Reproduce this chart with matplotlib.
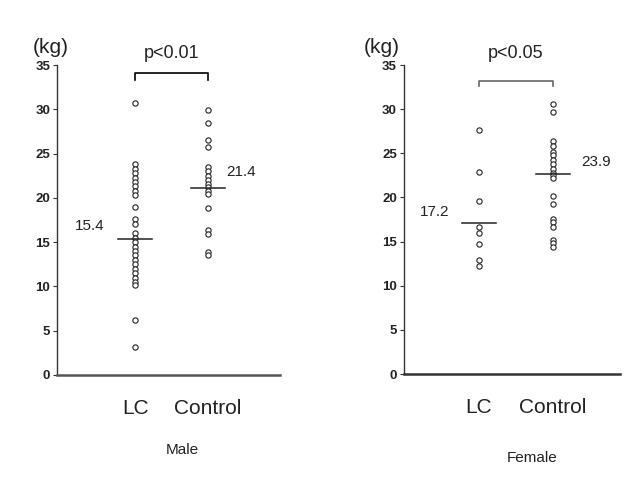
import matplotlib
matplotlib.use("Agg")
import matplotlib.pyplot as plt

plt.rcParams['font.family'] = ['Liberation Sans', 'DejaVu Sans']

groups = ["LC", "Control"]
male_lc = [30.7, 23.8, 23.3, 22.8, 22.3, 21.8, 21.3, 20.8, 20.3, 19.0, 17.6, 17.0,
           16.0, 15.5, 15.0, 14.5, 14.0, 13.5, 13.0, 12.5, 12.0, 11.5, 11.0, 10.5,
           10.2, 6.2, 3.2]
male_control = [29.9, 28.5, 26.5, 25.7, 23.5, 23.0, 22.5, 22.0, 21.6, 21.2, 20.8,
                20.4, 18.9, 16.4, 15.9, 13.9, 13.5]
female_lc = [27.6, 22.9, 19.6, 16.7, 16.0, 14.7, 12.9, 12.2]
female_control = [30.6, 29.7, 26.4, 25.8, 25.2, 24.8, 24.3, 23.8, 23.2, 22.8, 22.5,
                  22.2, 20.2, 19.3, 17.6, 17.2, 16.7, 15.2, 14.8, 14.4]
male_means = [15.4, 21.4]
female_means = [17.2, 23.9]
male_mean_line = [15.4, 21.1]
female_mean_line = [17.1, 22.7]
yticks = [0, 5, 10, 15, 20, 25, 30, 35]
p_texts = ["p<0.01", "p<0.05"]
titles = ["Male", "Female"]

fig = plt.figure(figsize=(6.34, 4.82), dpi=100)

panels = [
    dict(rect=[0.090, 0.222, 0.352, 0.643], xlim=(-0.07, 2.99), data=[male_lc, male_control],
         means=male_means, mline=male_mean_line, p=p_texts[0], title=titles[0],
         bracket_y=34.1, bracket_drop=0.8, lab_off=[(-0.62, 1.4), (0.45, 1.8)],
         spine_col='#555555', title_xy=(0.288, 0.066), brcol='black', kg_x=-0.03),
    dict(rect=[0.637, 0.224, 0.341, 0.641], xlim=(-0.013, 2.91), data=[female_lc, female_control],
         means=female_means, mline=female_mean_line, p=p_texts[1], title=titles[1],
         bracket_y=33.2, bracket_drop=0.6, lab_off=[(-0.60, 1.3), (0.58, 1.3)],
         spine_col='#333333', title_xy=(0.84, 0.05), brcol='#666666', kg_x=-0.10),
]

for pan in panels:
    ax = fig.add_axes(pan['rect'])
    ax.set_xlim(*pan['xlim'])
    ax.set_ylim(0, 35)
    for i, vals in enumerate(pan['data']):
        x = i + 1
        ax.plot([x] * len(vals), vals, linestyle='none', marker='o', markersize=3.8,
                markerfacecolor='white', markeredgecolor='#222222', markeredgewidth=0.8,
                clip_on=False)
        ax.plot([x - 0.23, x + 0.23], [pan['mline'][i], pan['mline'][i]],
                color='#222222', lw=1.1)
        dx, dy = pan['lab_off'][i]
        ax.text(x + dx, pan['mline'][i] + dy, f"{pan['means'][i]:.1f}",
                fontsize=11, ha='center', va='center', color='#222222')
    by = pan['bracket_y']
    ax.plot([1, 1, 2, 2], [by - pan['bracket_drop'], by, by, by - pan['bracket_drop']],
            color=pan['brcol'], lw=1.2, clip_on=False)
    ax.text(1.5, 36.3, pan['p'], fontsize=13, ha='center', va='center', color='#222222')
    ax.text(pan['kg_x'], 37.0, "(kg)", transform=ax.get_yaxis_transform(), fontsize=15,
            ha='center', va='center', color='#222222')
    ax.spines['top'].set_visible(False)
    ax.spines['right'].set_visible(False)
    ax.spines['left'].set_color('#333333')
    ax.spines['left'].set_linewidth(1.0)
    ax.spines['bottom'].set_color(pan['spine_col'])
    ax.spines['bottom'].set_linewidth(1.8)
    ax.set_yticks(yticks)
    ax.set_yticklabels([str(t) for t in yticks], fontsize=9.5, fontweight='bold', color='#222222')
    ax.tick_params(axis='y', length=3, width=0.8, pad=2, color='#333333')
    ax.set_xticks([1, 2])
    ax.set_xticklabels(groups, fontsize=15, color='#222222')
    ax.tick_params(axis='x', length=0, pad=17)
    fig.text(pan['title_xy'][0], pan['title_xy'][1], pan['title'], fontsize=11,
             ha='center', va='center', color='#222222')

fig.savefig("out.png", dpi=100, facecolor='white')
